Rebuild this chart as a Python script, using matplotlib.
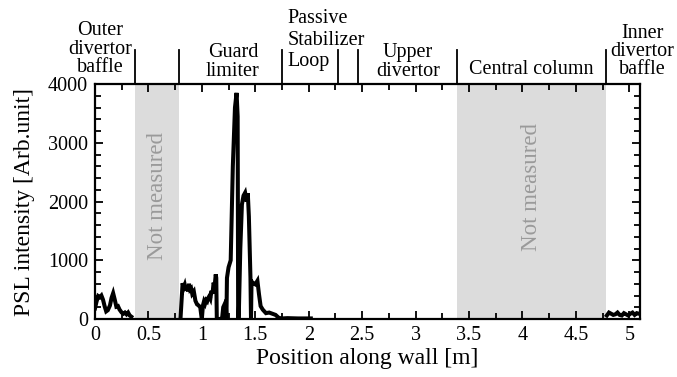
import numpy as np
import matplotlib
matplotlib.use("Agg")
import matplotlib.pyplot as plt
from matplotlib.ticker import MultipleLocator, FormatStrFormatter
import matplotlib.transforms as mtransforms

plt.rcParams["font.family"] = ["Liberation Serif", "DejaVu Serif"]

# ── measured PSL profile (three measured stretches of the wall) ──
outer_x = [0.00, 0.015, 0.03, 0.045, 0.06, 0.075, 0.09, 0.105, 0.12, 0.14, 0.155,
           0.17, 0.185, 0.20, 0.215, 0.23, 0.25, 0.265, 0.28, 0.295, 0.31, 0.325, 0.34]
outer_y = [180, 300, 390, 370, 400, 330, 220, 130, 150, 230, 360,
           440, 330, 210, 220, 160, 110, 90, 110, 80, 110, 60, 40]

guard_x = [0.80, 0.82, 0.83, 0.84, 0.85, 0.86, 0.87, 0.88, 0.89, 0.90, 0.91,
           0.925, 0.94, 0.955, 0.97, 0.985, 0.995, 1.00, 1.01, 1.02, 1.03, 1.04,
           1.05, 1.06, 1.07, 1.08, 1.09, 1.10, 1.11, 1.12, 1.13,
           1.135, 1.14, 1.145, 1.17, 1.19, 1.20, 1.215, 1.225, 1.23, 1.235, 1.25,
           1.27, 1.29, 1.31, 1.325, 1.335, 1.34, 1.345, 1.36, 1.375, 1.39, 1.405,
           1.42, 1.43, 1.44, 1.455, 1.46, 1.465, 1.48, 1.50, 1.52, 1.535, 1.55,
           1.57, 1.60, 1.63, 1.66, 1.69, 1.72, 1.75, 1.80, 1.90, 2.02]
guard_y = [0, 610, 530, 580, 490, 560, 470, 600, 500, 520, 430,
           470, 310, 250, 230, 200, 60, 0, 230, 300, 260, 320,
           300, 360, 390, 350, 480, 430, 620, 560, 760,
           700, 0, 0, 0, 20, 200, 260, 220, 0, 700, 880,
           1000, 2600, 3600, 3850, 3450, 0, 0, 1200, 1950, 2100, 2150,
           2000, 2140, 1750, 700, 0, 640, 610, 590, 650, 420, 220,
           160, 100, 110, 90, 70, 20, 10, 15, 10, 10]

inner_x = [4.79, 4.81, 4.83, 4.85, 4.87, 4.89, 4.91, 4.93, 4.95, 4.97, 4.99,
           5.01, 5.03, 5.05, 5.07, 5.09]
inner_y = [60, 110, 90, 70, 80, 110, 70, 60, 100, 80, 60,
           90, 110, 70, 100, 90]

# unmeasured stretches
gaps = [(0.374, 0.79), (3.39, 4.78)]
gap_text_y = [2100, 2250]

# wall section borders and names
borders = [0.374, 0.79, 1.75, 2.27, 2.46, 3.39, 4.78]
sections = ["Outer\ndivertor\nbaffle", "Guard\nlimiter", "Passive\nStabilizer\nLoop",
            "Upper\ndivertor", "Central column", "Inner\ndivertor\nbaffle"]
section_x = [0.05, 1.29, 1.80, 2.93, 4.08, 5.12]
section_y = [1.149, 1.094, 1.187, 1.094, 1.06, 1.138]
section_ha = ["center", "center", "left", "center", "center", "center"]
section_ls = [0.95, 0.95, 1.2, 0.95, 0.95, 0.95]

fig = plt.figure(figsize=(6.77, 3.77), dpi=100)
ax = fig.add_axes([0.1403, 0.1538, 0.805, 0.6233])

for (a, b), ty in zip(gaps, gap_text_y):
    ax.axvspan(a, b, color="#dcdcdc", lw=0, zorder=0)
    ax.text((a + b) / 2, ty, "Not measured", rotation=90, ha="center", va="center",
            fontsize=16.5, color="#9a9a9a", zorder=1)

for xs, ys in [(outer_x, outer_y), (guard_x, guard_y), (inner_x, inner_y)]:
    ax.plot(xs, ys, color="black", lw=2.9, solid_joinstyle="miter", zorder=3)

ax.set_xlim(0, 5.1)
ax.set_ylim(0, 4000)
ax.xaxis.set_major_locator(MultipleLocator(0.5))
ax.xaxis.set_minor_locator(MultipleLocator(0.25))
ax.xaxis.set_major_formatter(FormatStrFormatter("%g"))
ax.yaxis.set_major_locator(MultipleLocator(1000))
ax.yaxis.set_minor_locator(MultipleLocator(200))
ax.tick_params(which="both", direction="in", top=True, right=True,
               width=1.3, labelsize=14.5, pad=5)
ax.tick_params(which="major", length=5.5)
ax.tick_params(which="minor", length=4)
for sp in ax.spines.values():
    sp.set_linewidth(1.6)

ax.set_xlabel("Position along wall [m]", fontsize=17, labelpad=2)
ax.set_ylabel("PSL intensity [Arb.unit]", fontsize=17, labelpad=9)

# section dividers and names above the frame
trans = mtransforms.blended_transform_factory(ax.transData, ax.transAxes)
for bx in borders:
    ax.plot([bx, bx], [1.0, 1.145], color="black", lw=1.3, transform=trans,
            clip_on=False)
for name, sx, sy, ha, ls in zip(sections, section_x, section_y, section_ha, section_ls):
    ax.text(sx, sy, name, transform=trans, ha=ha, va="center", fontsize=14.5,
            linespacing=ls, multialignment="center" if ha == "center" else "left")

fig.savefig("out.png", dpi=100)
